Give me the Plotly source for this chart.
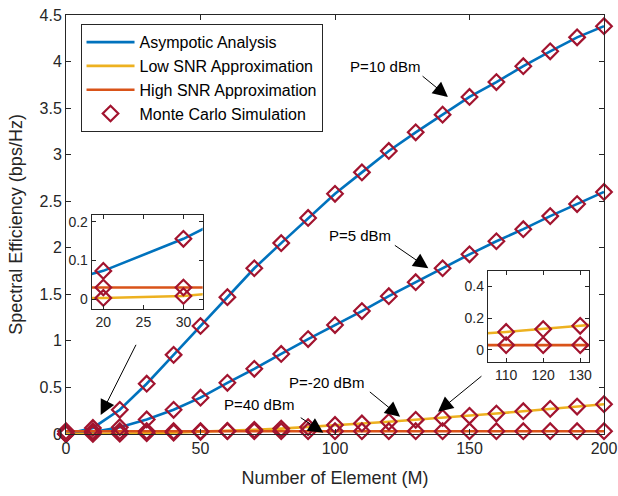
import plotly.graph_objects as go

# ---------------- data ----------------
M = [0, 10, 20, 30, 40, 50, 60, 70, 80, 90, 100,
     110, 120, 130, 140, 150, 160, 170, 180, 190, 200]

se_p10 = [0, 0.065, 0.26, 0.54, 0.85, 1.16, 1.47, 1.78, 2.05, 2.32, 2.58,
          2.81, 3.04, 3.24, 3.43, 3.62, 3.78, 3.95, 4.11, 4.26, 4.38]
se_p5 = [0, 0.02, 0.073, 0.156, 0.26, 0.39, 0.55, 0.70, 0.86, 1.02, 1.17,
         1.32, 1.48, 1.63, 1.78, 1.93, 2.07, 2.20, 2.34, 2.47, 2.60]
se_low_m20 = [0, 0.001, 0.003, 0.008, 0.015, 0.023, 0.033, 0.045, 0.058, 0.074, 0.097,
              0.113, 0.131, 0.152, 0.173, 0.195, 0.22, 0.245, 0.27, 0.295, 0.32]
se_high_40 = [0.03] * len(M)

x_ticks = [0, 50, 100, 150, 200]
y_ticks = [0, 0.5, 1, 1.5, 2, 2.5, 3, 3.5, 4, 4.5]
inset1_xticks = [20, 25, 30]
inset1_yticks = [0, 0.1, 0.2]
inset2_xticks = [110, 120, 130]
inset2_yticks = [0, 0.2, 0.4]

legend_names = ["Asympotic Analysis", "Low SNR Approximation",
                "High SNR Approximation", "Monte Carlo Simulation"]

# ---------------- styles ----------------
BLUE = "#0072BD"
YELLOW = "#EDB120"
ORANGE = "#D95319"
MK = "#A2142F"
AX = "#262626"
FONT = "Liberation Sans, Arial, Helvetica, sans-serif"

fig = go.Figure()

curves = [(se_p10, BLUE, 0), (se_p5, BLUE, None),
          (se_low_m20, YELLOW, 1), (se_high_40, ORANGE, 2)]

for xa, ya, main in [("x", "y", True), ("x2", "y2", False), ("x3", "y3", False)]:
    for ys, col, leg in curves:
        fig.add_trace(go.Scatter(
            x=M, y=ys, mode="lines", xaxis=xa, yaxis=ya,
            line=dict(color=col, width=2.6),
            name=legend_names[leg] if leg is not None else "",
            showlegend=bool(main and leg is not None),
            hoverinfo="skip"))
    for i, (ys, col, leg) in enumerate(curves):
        fig.add_trace(go.Scatter(
            x=M, y=ys, mode="markers", xaxis=xa, yaxis=ya,
            marker=dict(symbol="diamond-open", size=12, color=MK,
                        line=dict(color=MK, width=2.2)),
            name=legend_names[3], showlegend=bool(main and i == 0),
            cliponaxis=not main, hoverinfo="skip"))

axis_common = dict(showline=True, linecolor=AX, linewidth=1, mirror="ticks",
                   ticks="inside", ticklen=5, tickcolor=AX, showgrid=False,
                   zeroline=False, automargin=False, ticklabeloverflow="allow",
                   tickfont=dict(family=FONT, size=16, color=AX))

inset_common = dict(axis_common)
inset_common["tickfont"] = dict(family=FONT, size=14, color=AX)
inset_common["ticklen"] = 4

fig.update_layout(
    width=618, height=496,
    margin=dict(l=66, r=14, t=15, b=62, autoexpand=False),
    paper_bgcolor="white", plot_bgcolor="white",
    font=dict(family=FONT, color=AX),
    xaxis=dict(axis_common, domain=[0, 1], range=[0, 200], tickvals=x_ticks,
               title=dict(text="Number of Element (M)",
                          font=dict(family=FONT, size=18, color=AX), standoff=15)),
    yaxis=dict(axis_common, domain=[0, 1], range=[0, 4.5], tickvals=y_ticks,
               title=dict(text="Spectral Efficiency (bps/Hz)",
                          font=dict(family=FONT, size=18, color=AX), standoff=12)),
    xaxis2=dict(inset_common, domain=[0.0478, 0.254], range=[18.55, 32.4],
                tickvals=inset1_xticks, anchor="y2"),
    yaxis2=dict(inset_common, domain=[0.298, 0.523], range=[-0.026, 0.218],
                tickvals=inset1_yticks, anchor="x2"),
    xaxis3=dict(inset_common, domain=[0.784, 0.973], range=[105.05, 132.5],
                tickvals=inset2_xticks, anchor="y3"),
    yaxis3=dict(inset_common, domain=[0.172, 0.390], range=[-0.076, 0.5],
                tickvals=inset2_yticks, anchor="x3"),
    legend=dict(x=0.027, y=0.978, xanchor="left", yanchor="top",
                bgcolor="white", bordercolor=AX, borderwidth=1,
                font=dict(family=FONT, size=16, color="black"),
                tracegroupgap=0, itemwidth=48),
    showlegend=True,
)

# ---------------- annotations ----------------
texts = [("P=10 dBm", 118.6, 3.95), ("P=5 dBm", 109.3, 2.137),
         ("P=-20 dBm", 97.0, 0.551), ("P=40 dBm", 71.6, 0.319)]
for t, tx, ty in texts:
    fig.add_annotation(x=tx, y=ty, xref="x", yref="y", text=t, showarrow=False,
                       font=dict(family=FONT, size=15, color="black"))

arrows = [((132.0, 3.856), (142.0, 3.62)),
          ((121.7, 2.037), (134.7, 1.779)),
          ((112.4, 0.465), (124.2, 0.186)),
          ((86.7, 0.186), (95.65, 0.014)),
          ((26.3, 0.974), (12.9, 0.204)),
          ((155.0, 0.634), (138.3, 0.2395))]
for (tx, ty), (hx, hy) in arrows:
    fig.add_annotation(x=hx, y=hy, ax=tx, ay=ty, xref="x", yref="y",
                       axref="x", ayref="y", text="", showarrow=True,
                       arrowhead=2, arrowsize=3, arrowwidth=1,
                       arrowcolor="black", standoff=0, startstandoff=0)

# remove the browser's default 8 px page margin so the figure fills the window
fig.write_html("out.html",
               config={"displayModeBar": False},
               post_script="document.body.style.margin='0';"
                           "document.body.style.overflow='hidden';")
